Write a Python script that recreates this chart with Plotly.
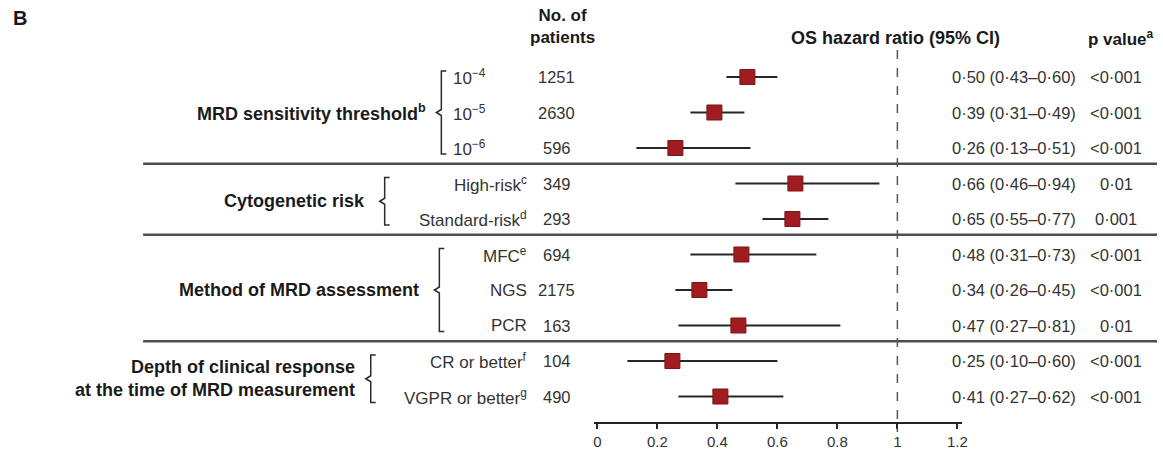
import plotly.graph_objects as go

# ---- data -------------------------------------------------------------
subgroups = ["10<sup>−4</sup>", "10<sup>−5</sup>", "10<sup>−6</sup>",
             "High-risk<sup>c</sup>", "Standard-risk<sup>d</sup>",
             "MFC<sup>e</sup>", "NGS", "PCR",
             "CR or better<sup>f</sup>", "VGPR or better<sup>g</sup>"]
n_patients = [1251, 2630, 596, 349, 293, 694, 2175, 163, 104, 490]
hazard_ratio = [0.50, 0.39, 0.26, 0.66, 0.65, 0.48, 0.34, 0.47, 0.25, 0.41]
ci_low = [0.43, 0.31, 0.13, 0.46, 0.55, 0.31, 0.26, 0.27, 0.10, 0.27]
ci_high = [0.60, 0.49, 0.51, 0.94, 0.77, 0.73, 0.45, 0.81, 0.60, 0.62]
p_values = ["<0·001", "<0·001", "<0·001", "0·01", "0·001",
            "<0·001", "<0·001", "0·01", "<0·001", "<0·001"]
group_labels = ["MRD sensitivity threshold<sup>b</sup>", "Cytogenetic risk",
                "Method of MRD assessment",
                "Depth of clinical response<br>at the time of MRD measurement"]
group_rows = [(0, 2), (3, 4), (5, 7), (8, 9)]
x_ticks = [0, 0.2, 0.4, 0.6, 0.8, 1, 1.2]

# ---- layout helpers ------------------------------------------------------
W, H = 1163, 458
ROW0, STEP = 77, 35.5          # pixel centre of first row, row pitch
FONT = "Liberation Sans, Arial, Helvetica, sans-serif"
TXT = "#333333"
BOLD = "#1a1a1a"
RED = "#a01c20"
SZ_LABEL, SZ_NUM, SZ_BOLD = 17, 16.5, 18


def px(x):
    return x / W


def py(y):
    return 1 - y / H


def row_px(i):
    return ROW0 + STEP * i


rows = list(range(len(subgroups)))

fig = go.Figure()

# confidence intervals
for i in rows:
    fig.add_trace(go.Scatter(
        x=[ci_low[i], ci_high[i]], y=[i, i], mode="lines",
        line=dict(color="#262626", width=2), hoverinfo="skip", showlegend=False))

# point estimates
fig.add_trace(go.Scatter(
    x=hazard_ratio, y=rows, mode="markers",
    marker=dict(symbol="square", size=15, color=RED,
                line=dict(color="#7a1417", width=1)),
    showlegend=False))

ann = []
shapes = []

# header texts
ann.append(dict(x=px(10), y=py(18), text="<b>B</b>", xanchor="left",
                font=dict(size=20, color=BOLD)))
ann.append(dict(x=px(565), y=py(26), text="<b>No. of<br>patients</b>",
                xanchor="center", font=dict(size=SZ_BOLD - 1, color=BOLD)))
ann.append(dict(x=px(900), y=py(38), text="<b>OS hazard ratio (95% CI)</b>",
                xanchor="center", font=dict(size=SZ_BOLD, color=BOLD)))
ann.append(dict(x=px(1127), y=py(38), text="<b>p value<sup>a</sup></b>",
                xanchor="center", font=dict(size=SZ_BOLD - 1, color=BOLD)))

# row texts
for i in rows:
    if i <= 2:
        ann.append(dict(x=px(453), y=py(row_px(i)), text=subgroups[i],
                        xanchor="left", font=dict(size=SZ_LABEL, color=TXT)))
    else:
        ann.append(dict(x=px(531), y=py(row_px(i)), text=subgroups[i],
                        xanchor="right", font=dict(size=SZ_LABEL, color=TXT)))
    ann.append(dict(x=px(559), y=py(row_px(i)), text=str(n_patients[i]),
                    xanchor="center", font=dict(size=SZ_NUM, color=TXT)))
    est = f"{hazard_ratio[i]:.2f} ({ci_low[i]:.2f}–{ci_high[i]:.2f})".replace(".", "·")
    ann.append(dict(x=px(955), y=py(row_px(i)), text=est,
                    xanchor="left", font=dict(size=SZ_NUM, color=TXT)))
    ann.append(dict(x=px(1122), y=py(row_px(i)), text=p_values[i],
                    xanchor="center", font=dict(size=SZ_NUM, color=TXT)))

# group labels and brackets
label_right = [430, 368, 423, 358]
bracket_x = [443, 386, 441, 372]
for g, (a, b) in enumerate(group_rows):
    top = row_px(a) - 6
    bot = row_px(b) + 6
    mid = (row_px(a) + row_px(b)) / 2
    ann.append(dict(x=px(label_right[g]), y=py(mid), text="<b>" + group_labels[g] + "</b>",
                    xanchor="right", align="right",
                    font=dict(size=SZ_BOLD, color=BOLD)))
    bx = bracket_x[g]
    path = (f"M {px(bx + 5)},{py(top)} L {px(bx)},{py(top)} "
            f"L {px(bx)},{py(mid - 3)} L {px(bx - 5)},{py(mid)} "
            f"L {px(bx)},{py(mid + 3)} L {px(bx)},{py(bot)} L {px(bx + 5)},{py(bot)}")
    shapes.append(dict(type="path", path=path, xref="paper", yref="paper",
                       line=dict(color="#2b2b2b", width=1.5)))

# separators between groups
for (a, b) in group_rows[:-1]:
    ysep = (row_px(b) + row_px(b + 1)) / 2 - 2
    shapes.append(dict(type="line", xref="paper", yref="paper",
                       x0=px(143), x1=1, y0=py(ysep), y1=py(ysep),
                       line=dict(color="#4d4d4d", width=2.5)))

# reference line at HR = 1
shapes.append(dict(type="line", xref="x", yref="paper", x0=1, x1=1,
                   y0=py(50), y1=py(432),
                   line=dict(color="#555555", width=1.5, dash="dash")))

for a_ in ann:
    a_["xref"] = "paper"
    a_["yref"] = "paper"
    a_["showarrow"] = False
    a_["yanchor"] = "middle"

fig.update_layout(
    width=W, height=H,
    margin=dict(l=0, r=0, t=0, b=0),
    paper_bgcolor="white", plot_bgcolor="white",
    font=dict(family=FONT, color=TXT),
    annotations=ann, shapes=shapes,
    xaxis=dict(domain=[px(597), px(967)], range=[-0.01, 1.216],
               anchor="free", position=py(423),
               showline=True, linecolor="#222222", linewidth=2,
               ticks="outside", ticklen=5, tickwidth=1.5, tickcolor="#222222",
               tickvals=x_ticks, ticktext=[f"{v:g}" for v in x_ticks],
               tickfont=dict(size=15, color=TXT),
               showgrid=False, zeroline=False, fixedrange=True),
    yaxis=dict(domain=[0, 1], range=[(H - ROW0) / STEP, -ROW0 / STEP],
               visible=False, fixedrange=True),
)

fig.write_html("out.html")
